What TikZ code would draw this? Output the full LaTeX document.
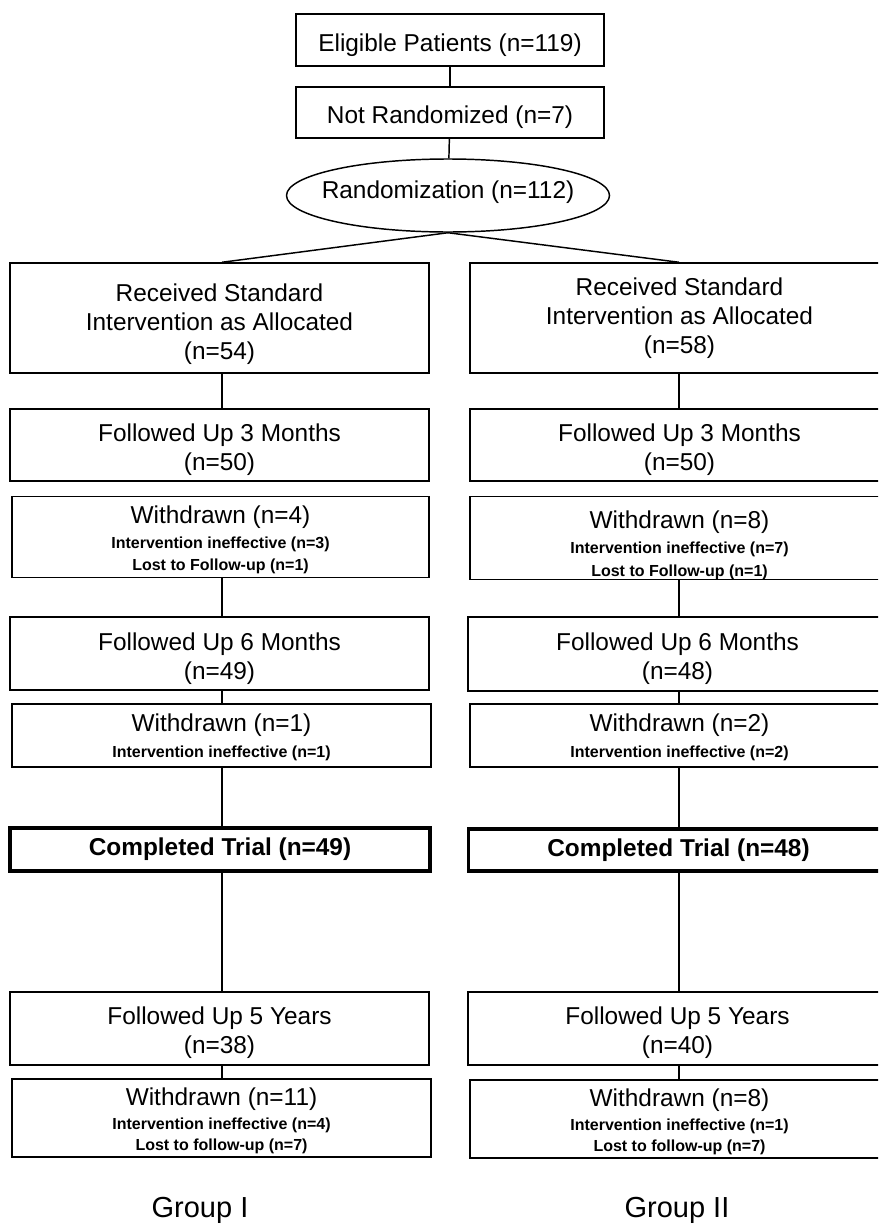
\documentclass[tikz,border=0pt]{standalone}
\usepackage{fontspec}
\setmainfont{Liberation Sans}
\usetikzlibrary{shapes.geometric}
\newcommand{\mainf}{\fontsize{18.3}{21.75}\selectfont}
\newcommand{\smf}{\fontsize{12}{14}\selectfont\bfseries}
\newcommand{\grpf}{\fontsize{21.75}{26}\selectfont}
\newcommand{\tp}[1]{\rule{0pt}{#1pt}}
\begin{document}
\begin{tikzpicture}[x=0.75pt,y=-0.75pt,
  bx/.style 2 args={draw, line width=1.1pt, rectangle, inner sep=0pt, align=center,
    minimum width=#1*0.75pt, minimum height=#2*0.75pt, font=\mainf},
  boldbox/.style={line width=2.6pt, font=\mainf\bfseries},
  link/.style={draw, line width=1.1pt},
  grp/.style={anchor=base, inner sep=0pt, font=\grpf}]
\useasboundingbox (0,0) rectangle (878,1224);
\clip (0,0) rectangle (878,1224);

% top
\node[bx={308}{52}] (elig) at (450,40) {\tp{20.6}Eligible Patients (n=119)};
\node[bx={308}{51}] (notr) at (450,112.5) {\tp{20.6}Not Randomized (n=7)};
\node[draw, line width=1.1pt, ellipse, inner sep=0pt, minimum width=323*0.75pt,
      minimum height=73*0.75pt, font=\mainf] (rand) at (448,195.5)
      {\makebox[0pt][c]{Randomization (n=112)\rule[-8.3pt]{0pt}{1pt}}};

\coordinate (Lx) at (222,0);
\coordinate (Rx) at (679,0);

% left column
\node[bx={419}{110}] (lR) at (219.5,318) {\tp{22.5}Received Standard\\Intervention as Allocated\\(n=54)};
\node[bx={419}{72}] (lF3) at (219.5,445) {\tp{20.6}Followed Up 3 Months\\(n=50)};
\node[bx={417}{81}] (lW1) at (220.5,537) {\tp{17.6}Withdrawn (n=4)\\[-2.85pt]{\smf Intervention ineffective (n=3)}\\[-5.1pt]{\smf Lost to Follow-up (n=1)}};
\node[bx={419}{73}] (lF6) at (219.5,653.5) {\tp{20.6}Followed Up 6 Months\\(n=49)};
\node[bx={419}{63}] (lW2) at (221.5,735.5) {\tp{16.1}Withdrawn (n=1)\\[-2.85pt]{\smf Intervention ineffective (n=1)}};
\node[bx={420}{43}, boldbox] (lC) at (220,849.5) {Completed Trial (n=49)};
\node[bx={419}{73}] (lF5) at (219.5,1028.5) {\tp{19.1}Followed Up 5 Years\\(n=38)};
\node[bx={419}{78}] (lW3) at (221.5,1118) {\tp{17.6}Withdrawn (n=11)\\[-3.6pt]{\smf Intervention ineffective (n=4)}\\[-5.85pt]{\smf Lost to follow-up (n=7)}};

% right column
\node[bx={419}{110}] (rR) at (679.5,318) {Received Standard\\Intervention as Allocated\\(n=58)};
\node[bx={419}{72}] (rF3) at (679.5,445) {\tp{20.6}Followed Up 3 Months\\(n=50)};
\node[bx={419}{82}] (rW1) at (679.5,538) {\tp{24}Withdrawn (n=8)\\[-2.85pt]{\smf Intervention ineffective (n=7)}\\[-5.1pt]{\smf Lost to Follow-up (n=1)}};
\node[bx={419}{74}] (rF6) at (677.5,654) {\tp{20.6}Followed Up 6 Months\\(n=48)};
\node[bx={419}{63}] (rW2) at (679.5,735.5) {\tp{16.1}Withdrawn (n=2)\\[-2.85pt]{\smf Intervention ineffective (n=2)}};
\node[bx={420}{42}, boldbox] (rC) at (678.5,850) {Completed Trial (n=48)};
\node[bx={419}{73}] (rF5) at (677.5,1028.5) {\tp{19.1}Followed Up 5 Years\\(n=40)};
\node[bx={419}{78}] (rW3) at (679.5,1119) {\tp{17.6}Withdrawn (n=8)\\[-3.6pt]{\smf Intervention ineffective (n=1)}\\[-5.85pt]{\smf Lost to follow-up (n=7)}};

% group labels
\node[grp] (g1) at (200,1217) {Group I};
\node[grp] (g2) at (677,1217) {Group II};

% connectors
\draw[link] (elig) -- (notr);
\draw[link] (notr) -- (rand);
\draw[link] (rand.south) -- (lR.north -| Lx);
\draw[link] (rand.south) -- (rR.north -| Rx);

\draw[link] (lR.south -| Lx) -- (lF3.north -| Lx);
\draw[link] (lW1.south -| Lx) -- (lF6.north -| Lx);
\draw[link] (lF6.south -| Lx) -- (lW2.north -| Lx);
\draw[link] (lW2.south -| Lx) -- (lC.north -| Lx);
\draw[link] (lC.south -| Lx) -- (lF5.north -| Lx);
\draw[link] (lF5.south -| Lx) -- (lW3.north -| Lx);

\draw[link] (rR.south -| Rx) -- (rF3.north -| Rx);
\draw[link] (rW1.south -| Rx) -- (rF6.north -| Rx);
\draw[link] (rF6.south -| Rx) -- (rW2.north -| Rx);
\draw[link] (rW2.south -| Rx) -- (rC.north -| Rx);
\draw[link] (rC.south -| Rx) -- (rF5.north -| Rx);
\draw[link] (rF5.south -| Rx) -- (rW3.north -| Rx);
\end{tikzpicture}
\end{document}
